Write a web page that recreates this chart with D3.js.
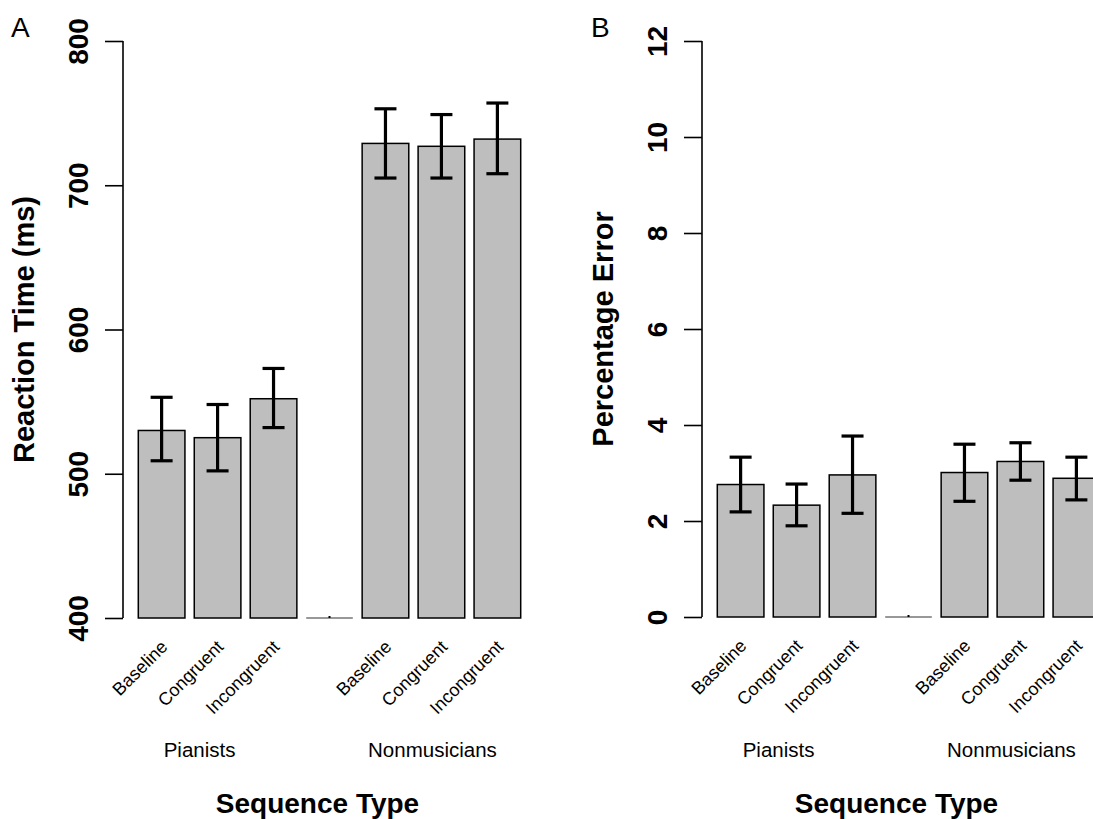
<!DOCTYPE html>
<html>
<head>
<meta charset="utf-8">
<script src="https://cdn.jsdelivr.net/npm/d3@7"></script>
<style>
  body { margin: 0; background: #fff; }
  text { font-family: "Liberation Sans", Arial, Helvetica, sans-serif; }
</style>
</head>
<body>
<div id="chart"></div>
<script>
// data
var conditions = ["Baseline", "Congruent", "Incongruent"];
var groups = ["Pianists", "Nonmusicians"];

// reaction time (ms), null = spacer bar between groups
var rtMean  = [530, 525, 552, null, 729, 727, 732];
var rtUpper = [553, 548, 573, null, 753, 749, 757];
var rtLower = [509, 502, 532, null, 705, 705, 708];
var rtTicks = [400, 500, 600, 700, 800];

// percentage error
var errMean  = [2.76, 2.33, 2.96, null, 3.01, 3.24, 2.89];
var errUpper = [3.33, 2.77, 3.77, null, 3.60, 3.63, 3.33];
var errLower = [2.19, 1.90, 2.16, null, 2.41, 2.85, 2.44];
var errTicks = [0, 2, 4, 6, 8, 10, 12];

var W = 1093, H = 819;
var svg = d3.select("#chart").append("svg")
    .attr("width", W).attr("height", H);

// bar index -> label, R barplot style: width 1, space 0.2
var barLabels = [conditions[0], conditions[1], conditions[2], "",
                 conditions[0], conditions[1], conditions[2]];

function panel(opt) {
    var x = d3.scaleLinear().domain([-0.128, 8.728]).range([opt.left, opt.left + 413]);
    var y = d3.scaleLinear().domain(opt.domain).range([opt.bottom, 41]);
    var g = svg.append("g");
    var base = opt.domain[0];

    function barLeft(i) { return 0.2 + i * 1.2; }
    function barMid(i) { return x(barLeft(i) + 0.5); }

    // y axis
    var axis = g.append("g")
        .attr("transform", "translate(" + opt.left + ",0)")
        .call(d3.axisLeft(y).tickValues(opt.ticks).tickSize(18).tickFormat(d3.format("d")));
    axis.select(".domain").attr("stroke", "#000").attr("stroke-width", 1.6)
        .attr("d", "M0," + y(opt.domain[1]) + "V" + y(opt.domain[0]));
    axis.selectAll(".tick line").attr("stroke", "#000").attr("stroke-width", 1.6);
    axis.selectAll(".tick text")
        .attr("x", null).attr("dy", null)
        .attr("transform", "translate(-35,0) rotate(-90)")
        .attr("text-anchor", "middle")
        .attr("font-size", 28).attr("font-weight", "bold")
        .attr("fill", "#000");

    // bars
    var bars = opt.mean.map(function(d, i) { return { i: i, m: d }; });
    g.selectAll("rect.bar").data(bars.filter(function(d) { return d.m != null; }))
        .enter().append("rect")
        .attr("class", "bar")
        .attr("x", function(d) { return x(barLeft(d.i)); })
        .attr("width", function(d) { return x(barLeft(d.i) + 1) - x(barLeft(d.i)); })
        .attr("y", function(d) { return y(d.m); })
        .attr("height", function(d) { return y(base) - y(d.m); })
        .attr("fill", "#bebebe")
        .attr("stroke", "#000")
        .attr("stroke-width", 1.5);

    // empty spacer bar: flat line plus a dot for its zero-length error bar
    bars.filter(function(d) { return d.m == null; }).forEach(function(d) {
        g.append("line")
            .attr("x1", x(barLeft(d.i))).attr("x2", x(barLeft(d.i) + 1))
            .attr("y1", y(base)).attr("y2", y(base))
            .attr("stroke", "#333").attr("stroke-width", 1.2);
        g.append("rect").attr("x", barMid(d.i) - 1).attr("y", y(base) - 2)
            .attr("width", 2).attr("height", 2).attr("fill", "#000");
    });

    // error bars
    var eb = g.selectAll("g.eb").data(opt.mean.map(function(d, i) {
        return { i: i, m: d, hi: opt.upper[i], lo: opt.lower[i] };
    }).filter(function(d) { return d.m != null; })).enter().append("g");
    eb.append("line")
        .attr("x1", function(d) { return barMid(d.i); })
        .attr("x2", function(d) { return barMid(d.i); })
        .attr("y1", function(d) { return y(d.hi); })
        .attr("y2", function(d) { return y(d.lo); })
        .attr("stroke", "#000").attr("stroke-width", 3.2);
    ["hi", "lo"].forEach(function(k) {
        eb.append("line")
            .attr("x1", function(d) { return barMid(d.i) - 11; })
            .attr("x2", function(d) { return barMid(d.i) + 11; })
            .attr("y1", function(d) { return y(d[k]); })
            .attr("y2", function(d) { return y(d[k]); })
            .attr("stroke", "#000").attr("stroke-width", 3.2);
    });

    // condition labels, 45 degrees
    barLabels.forEach(function(lab, i) {
        if (!lab) return;
        g.append("text")
            .attr("transform", "translate(" + (barMid(i) + 7) + "," + (y(base) + 30) + ") rotate(-45)")
            .attr("text-anchor", "end")
            .attr("font-size", 18)
            .text(lab);
    });

    // group labels
    var groupShift = [-18, -9];
    groups.forEach(function(gr, j) {
        var mid = (x(barLeft(j * 4)) + x(barLeft(j * 4 + 2) + 1)) / 2;
        g.append("text")
            .attr("x", mid + groupShift[j]).attr("y", 757)
            .attr("text-anchor", "middle").attr("font-size", 20.5)
            .text(gr);
    });

    // x title
    g.append("text")
        .attr("x", (x.range()[0] + x.range()[1]) / 2 - 12).attr("y", 813)
        .attr("text-anchor", "middle").attr("font-size", 28).attr("font-weight", "bold")
        .text("Sequence Type");

    // y title
    g.append("text")
        .attr("transform", "translate(" + (opt.left - 89) + "," + ((y.range()[0] + y.range()[1]) / 2) + ") rotate(-90)")
        .attr("text-anchor", "middle").attr("font-size", 29).attr("font-weight", "bold")
        .text(opt.ytitle);

    // panel letter
    g.append("text")
        .attr("x", opt.letterX).attr("y", 37)
        .attr("font-size", 28)
        .text(opt.letter);
}

panel({ left: 123, bottom: 618, domain: [400, 800], ticks: rtTicks,
        mean: rtMean, upper: rtUpper, lower: rtLower,
        ytitle: "Reaction Time (ms)", letter: "A", letterX: 11 });
panel({ left: 702, bottom: 617, domain: [0, 12], ticks: errTicks,
        mean: errMean, upper: errUpper, lower: errLower,
        ytitle: "Percentage Error", letter: "B", letterX: 591 });
</script>
</body>
</html>
